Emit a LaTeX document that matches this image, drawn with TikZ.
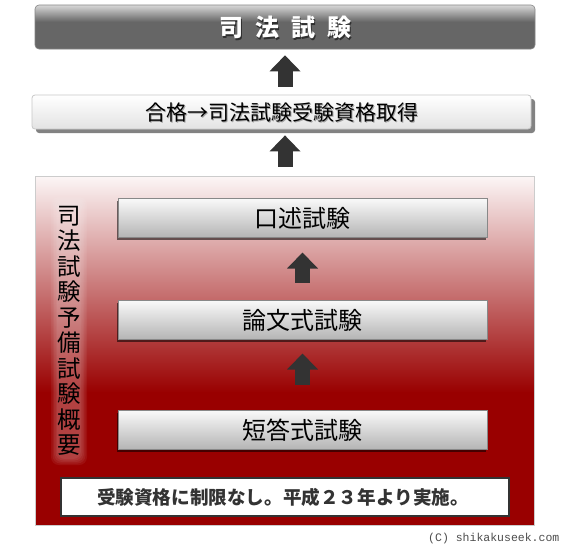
\documentclass[tikz,border=0pt]{standalone}
\usepackage{fontspec}
\newfontfamily\jp{Noto Sans CJK JP}
\newfontfamily\cmono{Liberation Mono}
\usetikzlibrary{shadows,arrows.meta,calc}
\definecolor{dred}{HTML}{990000}
\definecolor{pinkw}{HTML}{FCF6F6}
\definecolor{tgray}{HTML}{666666}
\definecolor{tlight}{HTML}{D8D8D8}
\definecolor{arrgray}{HTML}{333333}
\definecolor{boxborder}{HTML}{888888}
\pgfdeclareverticalshading{redshade}{100bp}{color(0bp)=(dred); color(44bp)=(dred); color(75bp)=(pinkw); color(100bp)=(pinkw)}
\pgfdeclareverticalshading{titleshade}{100bp}{color(0bp)=(tgray); color(25bp)=(tgray); color(56bp)=(tgray); color(75bp)=(tlight); color(100bp)=(tlight)}
\newcommand{\titletext}{\jp\bfseries\fontsize{24}{24}\selectfont 司\hspace{12pt}法\hspace{12pt}試\hspace{12pt}験}
\newcommand{\qualtext}{\jp\fontsize{21}{21}\selectfont 合格→司法試験受験資格取得}
\newcommand{\vtext}{司\\法\\試\\験\\予\\備\\試\\験\\概\\要}
\tikzset{
  titlebox/.style={rounded corners=4pt, shading=titleshade, draw=tgray!80, line width=0.6pt, inner sep=0pt},
  qualbox/.style={rounded corners=3pt, top color=white, bottom color=black!11, draw=black!22, line width=0.8pt, inner sep=0pt,
    drop shadow={shadow xshift=4pt, shadow yshift=-4pt, opacity=0.75, fill=black!65}},
  redbox/.style={shading=redshade, draw=black!20, line width=0.8pt, inner sep=0pt},
  stepbox/.style={top color=black!2, bottom color=black!29, draw=boxborder, line width=1pt, inner sep=0pt,
    minimum width=369pt, minimum height=39pt,
    drop shadow={shadow xshift=-1pt, shadow yshift=-3pt, opacity=0.55, fill=black}},
  steptext/.style={font=\jp\fontsize{24}{24}\selectfont, text=black},
  notebox/.style={fill=white, draw=arrgray, line width=1.4pt, inner sep=0pt, minimum width=448pt, minimum height=38pt},
  blockarr/.style={draw=arrgray, line width=15pt, -{Triangle[width=30pt,length=16pt]}},
  vstyle/.style={align=center, inner sep=0pt, font=\jp\fontsize{23.5}{25.5}\selectfont},
  glowband/.style={fill=white, fill opacity=0.06, rounded corners=8pt},
}
\begin{document}
\begin{tikzpicture}[x=1pt,y=-1pt]
\useasboundingbox (0,0) rectangle (570,549);
\fill[white] (0,0) rectangle (570,549);

% title
\node[titlebox, minimum width=500pt, minimum height=44pt] (title) at (285,27) {};
\node[text=black, text opacity=0.55, inner sep=0pt] (titleshadow) at (286.5,29) {\titletext};
\node[text=white, inner sep=0pt] (titlelabel) at (285,27.5) {\titletext};

% qualification box
\node[qualbox, minimum width=499pt, minimum height=34pt] (qual) at (281.5,112) {};
\node[text=black, text opacity=0.3, inner sep=0pt] (qualshadow) at (283,114) {\qualtext};
\node[text=black, inner sep=0pt] (quallabel) at (281.5,112.5) {\qualtext};

% red area
\node[redbox, minimum width=499pt, minimum height=349pt] (red) at (284.5,350.5) {};

% soft glow behind the vertical title
\foreach \g in {0,1,2,3,4}
  \fill[glowband] (57-\g*1.5,203-\g*1.5) rectangle (81+\g*1.5,459+\g*1.5);
\node[vstyle, text=black] (vlabel) at (69,331) {\vtext};

% steps
\node[stepbox] (oral) at (302.5,217.5) {};
\node[steptext] (orallabel) at (302.5,218.5) {口述試験};
\node[stepbox] (essay) at (302.5,319.5) {};
\node[steptext] (essaylabel) at (302.5,320.5) {論文式試験};
\node[stepbox] (short) at (302.5,429.5) {};
\node[steptext] (shortlabel) at (302.5,430.5) {短答式試験};

% note
\node[notebox] (note) at (285,497) {};
\node[font=\jp\bfseries\fontsize{18.6}{18.6}\selectfont, text=arrgray, inner sep=0pt] (notelabel) at (283,497.5) {受験資格に制限なし。平成２３年より実施。};

% arrows
\draw[blockarr] ([yshift=8pt]qual.north -| title.south) -- ([yshift=-6pt]title.south);
\draw[blockarr] ([yshift=9pt]red.north -| title.south) -- ([yshift=-6pt]qual.south -| title.south);
\draw[blockarr] ([yshift=17pt]essay.north) -- ([yshift=-15pt]oral.south);
\draw[blockarr] ([yshift=25pt]short.north) -- ([yshift=-14pt]essay.south);

% copyright
\node[anchor=west, font=\cmono\fontsize{11.5}{11.5}\selectfont, text=black!70, inner sep=0pt] (copy) at (428,538.5) {(C) shikakuseek.com};
\end{tikzpicture}
\end{document}
